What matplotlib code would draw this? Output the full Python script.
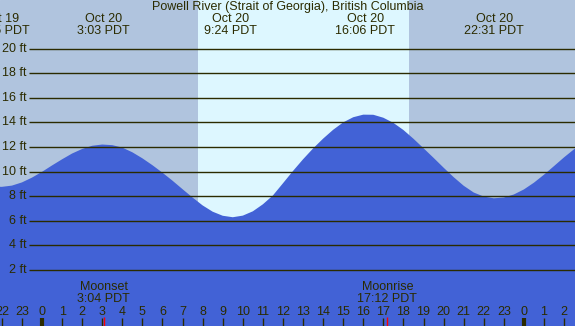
import matplotlib
matplotlib.use("Agg")
import matplotlib.pyplot as plt
import matplotlib.transforms as mtransforms

plt.rcParams['font.family'] = ['Liberation Sans', 'DejaVu Sans']

# tide height (ft), hours from Oct 20 00:00 PDT
tide_hours = [-2.5, -2.0, -1.5, -1.0, -0.5, 0.0, 0.5, 1.0, 1.5, 2.0, 2.5, 3.0,
              3.5, 4.0, 4.5, 5.0, 5.5, 6.0, 6.5, 7.0, 7.5, 8.0, 8.5, 9.0, 9.5,
              10.0, 10.5, 11.0, 11.5, 12.0, 12.5, 13.0, 13.5, 14.0, 14.5, 15.0,
              15.5, 16.0, 16.5, 17.0, 17.5, 18.0, 18.5, 19.0, 19.5, 20.0, 20.5,
              21.0, 21.5, 22.0, 22.5, 23.0, 23.5, 24.0, 24.5, 25.0, 25.5, 26.0,
              26.5, 27.0]
tide_ft = [8.78, 8.76, 8.86, 9.12, 9.51, 9.98, 10.50, 11.00, 11.47, 11.84, 12.10, 12.20,
           12.15, 11.95, 11.57, 11.08, 10.52, 9.91, 9.26, 8.57, 7.89, 7.25, 6.74, 6.41, 6.29,
           6.42, 6.77, 7.34, 8.06, 9.05, 10.05, 11.00, 11.88, 12.68, 13.40, 14.00,
           14.42, 14.63, 14.62, 14.38, 13.96, 13.38, 12.67, 11.90, 11.12, 10.32, 9.55,
           8.85, 8.30, 7.97, 7.83, 7.89, 8.14, 8.55, 9.10, 9.75, 10.45, 11.16,
           11.82, 12.39]

# high / low tide events shown along the top
event_hours = [-2.08, 3.05, 9.40, 16.10, 22.52]
event_days = ['Oct 19', 'Oct 20', 'Oct 20', 'Oct 20', 'Oct 20']
event_times = ['21:55 PDT', '3:03 PDT', '9:24 PDT', '16:06 PDT', '22:31 PDT']

moon_hours = [3.067, 17.2]
moon_names = ['Moonset', 'Moonrise']
moon_times = ['3:04 PDT', '17:12 PDT']

sunrise = 7.77
sunset = 18.28

ft_levels = [2, 4, 6, 8, 10, 12, 14, 16, 18, 20]
hour_marks = list(range(-2, 27))

title = 'Powell River (Strait of Georgia), British Columbia'

W, H = 575, 326
night = '#B0C4DE'
day = '#DDF7FF'
water = '#4262D6'
ink = '#2B2B00'

fig = plt.figure(figsize=(W / 100, H / 100), dpi=100)
ax = fig.add_axes([0, 0, 1, 1])
px_per_h = 20.08
px_per_ft = 12.3
ax.set_xlim(-42 / px_per_h, (W - 42) / px_per_h)
ax.set_ylim((294.6 - H) / px_per_ft, 294.6 / px_per_ft)
ax.set_facecolor(night)
ax.axis('off')
ax.add_patch(plt.Rectangle((0, 0), 1, 1, transform=ax.transAxes, color=night, zorder=0))

ax.axvspan(sunrise, sunset, color=day, zorder=1, lw=0)
ax.fill_between(tide_hours, tide_ft, -10, color=water, lw=0, zorder=2)

blend = mtransforms.blended_transform_factory(ax.transAxes, ax.transData)
for lv in ft_levels:
    ax.plot([29 / W, 1], [lv, lv], transform=blend, color=ink, lw=1.0, zorder=3,
            solid_capstyle='butt')
    ax.text(27 / W, lv, f'{lv} ft', transform=blend, ha='right', va='center',
            fontsize=9, color=ink, zorder=4)

blend_x = mtransforms.blended_transform_factory(ax.transData, ax.transAxes)
for h in hour_marks:
    ax.text(h, 1 - 312 / H, str(h % 24), transform=blend_x, ha='center', va='center',
            fontsize=9, color=ink, zorder=4)
    lw = 3.0 if h % 24 == 0 else 1.0
    ax.plot([h, h], [0, 8 / H], transform=blend_x, color=ink, lw=lw, zorder=4,
            solid_capstyle='butt')

for mh, name, t in zip(moon_hours, moon_names, moon_times):
    ax.plot([mh, mh], [0, 9 / H], transform=blend_x, color='#FF0000', lw=1.0, zorder=5,
            solid_capstyle='butt')
    ax.text(mh, 1 - 287.5 / H, name, transform=blend_x, ha='center', va='center',
            fontsize=9, color=ink, zorder=4)
    ax.text(mh, 1 - 299.5 / H, t, transform=blend_x, ha='center', va='center',
            fontsize=9, color=ink, zorder=4)

for eh, d, t in zip(event_hours, event_days, event_times):
    ax.text(eh, 1 - 19.3 / H, d, transform=blend_x, ha='center', va='center',
            fontsize=9, color=ink, zorder=4)
    ax.text(eh, 1 - 31.5 / H, t, transform=blend_x, ha='center', va='center',
            fontsize=9, color=ink, zorder=4)

fig.text(0.5 * (149 + 427) / W, 1 - 7 / H, title, ha='center', va='center',
         fontsize=9, color=ink)

fig.savefig('out.png', dpi=100)
